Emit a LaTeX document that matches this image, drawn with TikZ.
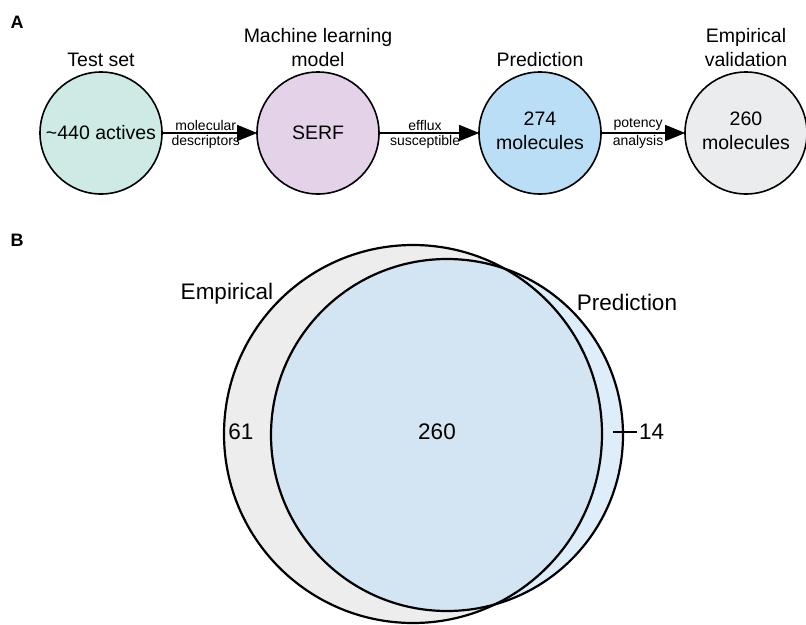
\documentclass[tikz,border=0pt]{standalone}
\usepackage{fontspec}
\setmainfont{Liberation Sans}
\usetikzlibrary{arrows.meta}
\usepackage{xcolor}
\definecolor{MintCircle}{HTML}{CDEBE4}
\definecolor{LilacCircle}{HTML}{E4D3E8}
\definecolor{SkyCircle}{HTML}{B9DEF5}
\definecolor{GreyCircle}{HTML}{EBECEE}
\definecolor{VennGrey}{HTML}{EDEDED}
\definecolor{VennBlue}{HTML}{DDEEFA}
\definecolor{VennBoth}{HTML}{D3E5F3}

\begin{document}
\begin{tikzpicture}[x=1pt, y=-1pt,
    stage/.style={circle, draw, line width=1.6pt, minimum size=122pt, inner sep=0pt,
      font=\fontsize{19.5}{24}\selectfont},
    heading/.style={font=\fontsize{19.5}{24}\selectfont, anchor=south, inner sep=0pt},
    flow/.style={-{Triangle[length=20pt, width=16pt]}, line width=1.3pt, shorten >=-1pt},
    tag/.style={font=\fontsize{14}{16}\selectfont, inner sep=1.5pt},
    venntext/.style={font=\fontsize{22.5}{26}\selectfont}]
      \useasboundingbox (0,0) rectangle (806,624);

      % panel A
      \node (A) [font=\fontsize{18}{18}\bfseries] at (17,22) {A};
      \node (test) [stage, fill=MintCircle] at (101,133) {\textasciitilde440 actives};
      \node (serf) [stage, fill=LilacCircle] at (318,133) {SERF};
      \node (pred) [stage, fill=SkyCircle] at (540,133) {
        \begin{tabular}{c}
          274 \\
          molecules
        \end{tabular}
      };
      \node (valid) [stage, fill=GreyCircle] at (746,133) {
        \begin{tabular}{c}
          260 \\
          molecules
        \end{tabular}
      };

      \node (testT) [heading] at (101,67) {Test set};
      \node (serfT) [heading] at (318,74) {
        \begin{tabular}{c}
          Machine learning \\
          model
        \end{tabular}
      };
      \node (predT) [heading] at (540,67) {Prediction};
      \node (validT) [heading] at (746,74) {
        \begin{tabular}{c}
          Empirical \\
          validation
        \end{tabular}
      };

      \draw[flow] (test) -- (serf)
        node [pos=0.46, above, tag] {molecular}
        node [pos=0.46, below, tag] {descriptors};
      \draw[flow] (serf) -- (pred)
        node [pos=0.46, above, tag] {efflux}
        node [pos=0.46, below, tag] {susceptible};
      \draw[flow] (pred) -- (valid)
        node [pos=0.44, above, tag] {potency}
        node [pos=0.44, below, tag] {analysis};

      % panel B
      \node (B) [font=\fontsize{18}{18}\bfseries] at (17,240) {B};
      \fill[VennGrey] (413,434) circle (189pt);
      \fill[VennBlue] (447,435) circle (176pt);
      \begin{scope}
        \clip (413,434) circle (189pt);
        \fill[VennBoth] (447,435) circle (176pt);
      \end{scope}
      \draw[line width=2.2pt] (413,434) circle (189pt);
      \draw[line width=2.2pt] (447,435) circle (176pt);

      \node (empL) [venntext] at (227,294) {Empirical};
      \node (predL) [venntext] at (627,302) {Prediction};
      \node (both) [venntext] at (437,432) {260};
      \node (onlyE) [venntext] at (241,432) {61};
      \node (onlyP) [venntext, anchor=west, inner sep=2pt] at (637,432) {14};
      \coordinate (tick) at (613,432);
      \draw[line width=1.3pt] (tick) -- (onlyP.west);
    \end{tikzpicture}
\end{document}
